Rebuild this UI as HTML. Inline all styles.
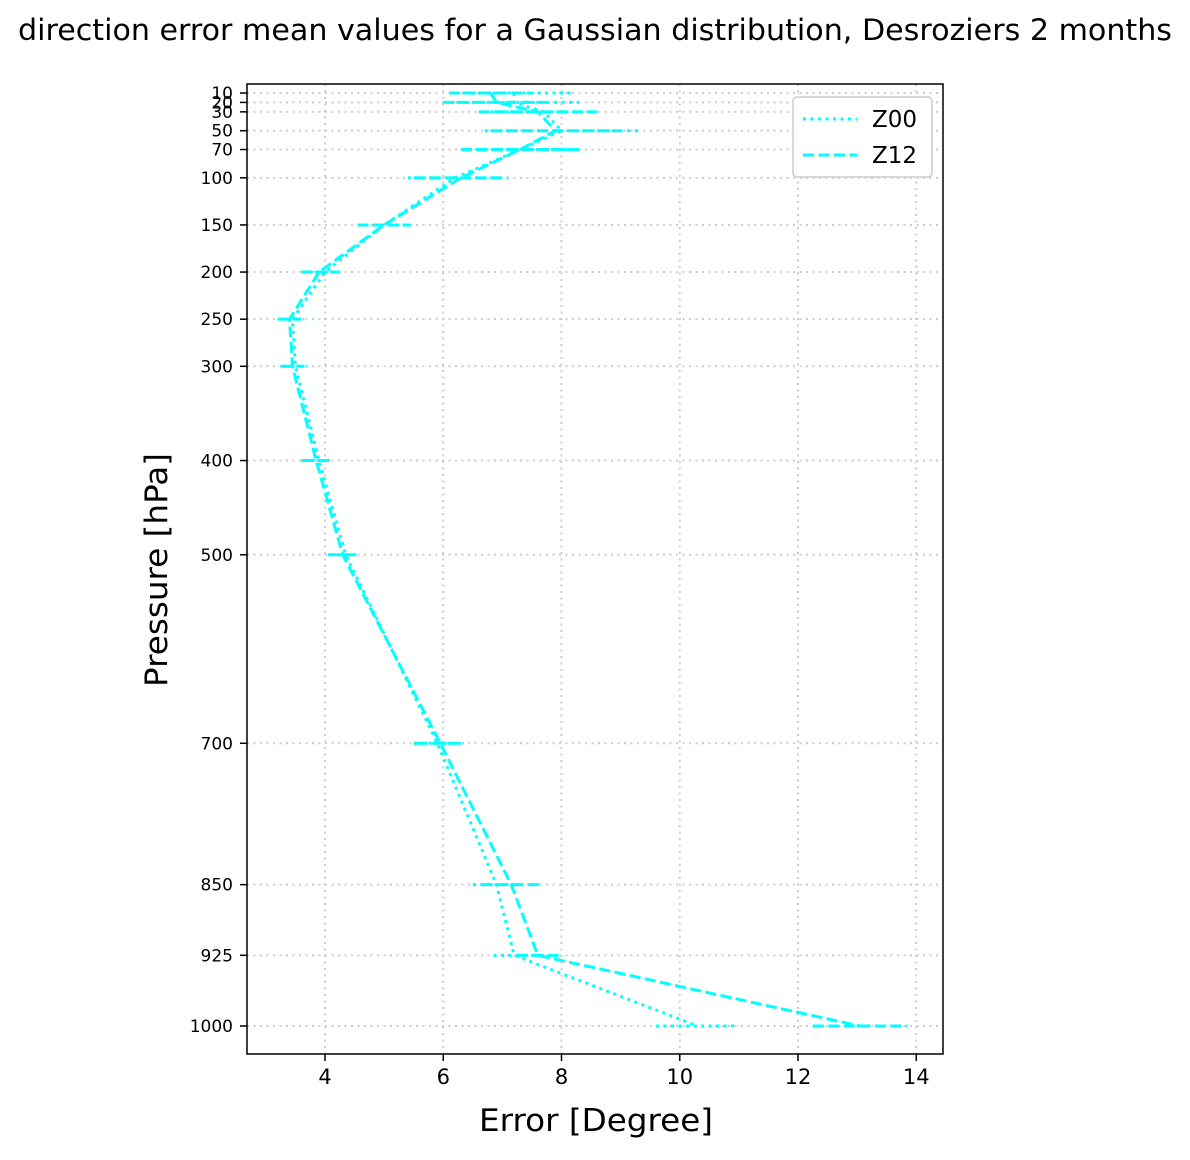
<!DOCTYPE html>
<html><head><meta charset="utf-8"><style>
body{margin:0;background:#fff;font-family:"Liberation Sans","DejaVu Sans",sans-serif}
</style></head><body>
<svg width="1190" height="1155" xmlns="http://www.w3.org/2000/svg" font-family="DejaVu Sans, Liberation Sans, sans-serif">
<rect width="1190" height="1155" fill="#fff"/>
<text x="595" y="40" text-anchor="middle" font-size="29" textLength="1154" lengthAdjust="spacingAndGlyphs">direction error mean values for a Gaussian distribution, Desroziers 2 months</text>
<g id="grid"></g>
<g id="series"></g>
<rect x="247" y="84" width="696" height="970" fill="none" stroke="#000" stroke-width="1.5"/>
<g id="ticks"></g>
<text x="596" y="1131" text-anchor="middle" font-size="31" textLength="234" lengthAdjust="spacingAndGlyphs">Error [Degree]</text>
<text transform="translate(167,570) rotate(-90)" text-anchor="middle" font-size="31" textLength="234" lengthAdjust="spacingAndGlyphs">Pressure [hPa]</text>
<g>
<rect x="793" y="97" width="139" height="80" rx="4" fill="#fff" stroke="#ccc" stroke-width="1.5"/>
<g>
<line x1="803" y1="119" x2="857" y2="119" stroke="#00ffff" stroke-width="3" stroke-dasharray="3,4.5"/>
<text x="872" y="127" font-size="23">Z00</text></g>
<g>
<line x1="803" y1="155" x2="857" y2="155" stroke="#00ffff" stroke-width="3" stroke-dasharray="11,4.5"/>
<text x="872" y="163" font-size="23">Z12</text></g>
</g>
</svg>
<script>
const levels=[10,20,30,50,70,100,150,200,250,300,400,500,700,850,925,1000];
const z00=[7.2,7.2,7.7,8.0,7.3,6.2,5.0,4.0,3.45,3.5,3.9,4.35,5.9,6.9,7.2,10.3];
const z00err=[1.0,1.1,0.9,1.3,1.0,0.8,0.45,0.3,0.2,0.2,0.25,0.25,0.4,0.4,0.35,0.7];
const z12=[6.8,6.9,7.6,7.9,7.3,6.3,5.0,3.9,3.4,3.45,3.85,4.3,5.95,7.15,7.6,13.05];
const z12err=[0.7,0.9,1.0,1.1,1.0,0.8,0.45,0.3,0.2,0.2,0.25,0.25,0.4,0.5,0.35,0.8];
const xTicks=[4,6,8,10,12,14];
const NS="http://www.w3.org/2000/svg";
const X=v=>325+(v-4)*59.125;
const Y=p=>93+(p-10)*(933/990);
function mk(t,a,parent){const e=document.createElementNS(NS,t);for(const k in a)e.setAttribute(k,a[k]);parent.appendChild(e);return e;}
const grid=document.getElementById('grid'),ticks=document.getElementById('ticks'),ser=document.getElementById('series');
xTicks.forEach(v=>{
 const l=mk('line',{x1:X(v),x2:X(v),y1:84,y2:1054,stroke:'#ccc','stroke-width':2,'stroke-dasharray':'2,4.5'},grid);
 
 
 mk('line',{x1:X(v),x2:X(v),y1:1054,y2:1061,stroke:'#000','stroke-width':1.5},ticks);
 const t=mk('text',{x:X(v),y:1084,'text-anchor':'middle','font-size':21},ticks);t.textContent=v;
 
 
});
levels.forEach(p=>{
 const l=mk('line',{x1:247,x2:943,y1:Y(p),y2:Y(p),stroke:'#ccc','stroke-width':2,'stroke-dasharray':'2,4.5'},grid);
 
 
 mk('line',{x1:240,x2:247,y1:Y(p),y2:Y(p),stroke:'#000','stroke-width':1.5},ticks);
 const t=mk('text',{x:233,y:Y(p)+6,'text-anchor':'end','font-size':17},ticks);t.textContent=p;
 
 
});
function series(vals,errs,dash,name){
 const g=mk('g',{},ser);
 
 
 const pts=vals.map((v,i)=>X(v)+','+Y(levels[i])).join(' ');
 mk('polyline',{points:pts,fill:'none',stroke:'#00ffff','stroke-width':3,'stroke-dasharray':dash},g);
 vals.forEach((v,i)=>{
  const b=mk('line',{x1:X(v-errs[i]),x2:X(v+errs[i]),y1:Y(levels[i]),y2:Y(levels[i]),stroke:'#00ffff','stroke-width':3,'stroke-dasharray':dash},g);
  
  
 });
}
series(z00,z00err,'3,4.5','z00-series');
series(z12,z12err,'11,4.5','z12-series');
</script>
</body></html>
